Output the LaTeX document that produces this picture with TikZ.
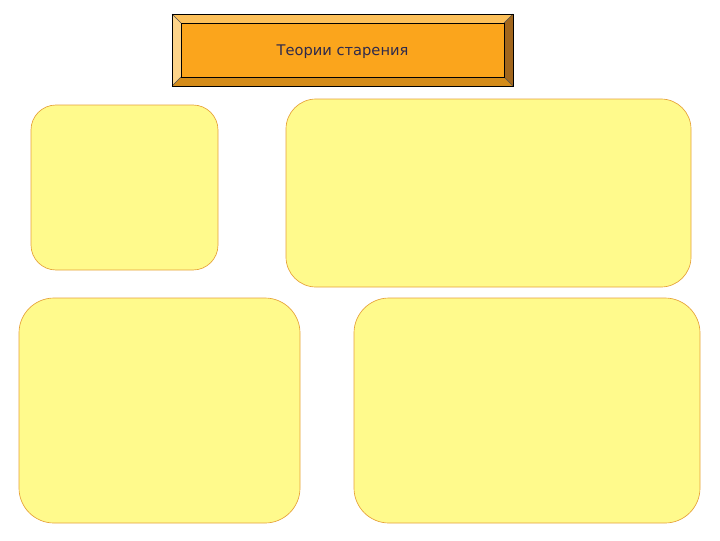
\documentclass[tikz,border=0pt]{standalone}
\usepackage{fontspec}
\setmainfont{DejaVu Sans}
\definecolor{boxfill}{HTML}{FFFA8C}
\definecolor{boxline}{HTML}{E6A23A}
\definecolor{titlefill}{HTML}{FBA51C}
\definecolor{bevellight}{HTML}{FDD48A}
\definecolor{beveltop}{HTML}{FCC05A}
\definecolor{beveldark}{HTML}{A2661C}
\definecolor{bevelbottom}{HTML}{D48C1A}
\definecolor{titletext}{HTML}{2E2A4C}

\begin{document}
\begin{tikzpicture}[x=0.75pt,y=-0.75pt,
    theory/.style={draw=boxline, fill=boxfill, line width=0.5pt, inner sep=0pt},
    bevel/.style={draw=black, line width=0.4pt}
  ]
    \useasboundingbox (0,0) rectangle (720,540);
    % title plate
    \coordinate (o1) at (172,14);
    \coordinate (o2) at (513,14);
    \coordinate (o3) at (513,86);
    \coordinate (o4) at (172,86);
    \coordinate (i1) at (181,23);
    \coordinate (i2) at (504,23);
    \coordinate (i3) at (504,77);
    \coordinate (i4) at (181,77);
    \fill[beveltop] (o1) -- (o2) -- (i2) -- (i1) -- cycle;
    \fill[bevellight] (o1) -- (i1) -- (i4) -- (o4) -- cycle;
    \fill[beveldark] (o2) -- (o3) -- (i3) -- (i2) -- cycle;
    \fill[bevelbottom] (o4) -- (i4) -- (i3) -- (o3) -- cycle;
    \draw[black!70, line width=0.3pt] (o1) -- (i1) (o2) -- (i2) (o3) -- (i3) (o4) -- (i4);
    \draw[bevel] (o1) rectangle (o3);
    \draw[bevel, fill=titlefill] (i1) rectangle (i3);
    \node[text=titletext, font=\fontsize{11}{13}\selectfont] (title) at (342.5,51.5) {Теории старения};
    % theory boxes
    \node[theory, rounded corners=18.75pt, minimum width=140.25pt, minimum height=123.75pt]
        (topleft) at (124.5,187.5) {};
    \node[theory, rounded corners=22.5pt, minimum width=303.75pt, minimum height=141pt]
        (topright) at (488.5,193) {};
    \node[theory, rounded corners=26.25pt, minimum width=210.75pt, minimum height=168.75pt]
        (bottomleft) at (159.5,410.5) {};
    \node[theory, rounded corners=26.25pt, minimum width=259.5pt, minimum height=168.75pt]
        (bottomright) at (527,410.5) {};
\end{tikzpicture}
\end{document}
